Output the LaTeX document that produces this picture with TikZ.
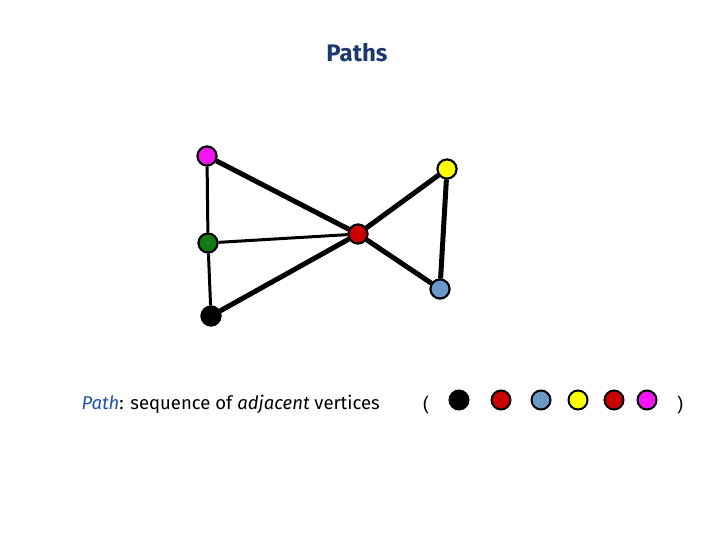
\documentclass[tikz,border=0pt]{standalone}
\usepackage{fontspec}
\setmainfont{Fira Sans}
\definecolor{titleblue}{HTML}{1C3A6E}
\definecolor{pathblue}{HTML}{1F4FA8}
\definecolor{vmag}{HTML}{F515F0}
\definecolor{vgreen}{HTML}{137A13}
\definecolor{vred}{HTML}{CC0000}
\definecolor{vyellow}{HTML}{FFFF00}
\definecolor{vblue}{HTML}{6A98C8}
\tikzset{
  vtx/.style={circle, draw=black, line width=2pt, minimum size=19pt, inner sep=0pt},
  thick edge/.style={line width=5pt},
  thin edge/.style={line width=3pt},
  captext/.style={font=\fontsize{18.5}{22}\selectfont},
}
\begin{document}
\begin{tikzpicture}[x=1pt,y=-1pt]
\useasboundingbox (0,0) rectangle (720,540);
\node[text=titleblue, font=\fontsize{24}{28}\selectfont\bfseries] (title) at (357,53) {Paths};
% graph vertices
\node[vtx, fill=vmag] (m) at (207,156) {};
\node[vtx, fill=vgreen] (g) at (208,243) {};
\node[vtx, fill=black] (k) at (211,316) {};
\node[vtx, fill=vred] (r) at (358,234) {};
\node[vtx, fill=vyellow] (y) at (447,169) {};
\node[vtx, fill=vblue] (b) at (440,289) {};
\draw[thin edge] (m) -- (g);
\draw[thin edge] (g) -- (k);
\draw[thin edge] (g) -- (r);
\draw[thick edge] (m) -- (r);
\draw[thick edge] (k) -- (r);
\draw[thick edge] (r) -- (y);
\draw[thick edge] (r) -- (b);
\draw[thick edge] (y) -- (b);
% redraw vertices on top
\node[vtx, fill=vmag] at (m) {};
\node[vtx, fill=vgreen] at (g) {};
\node[vtx, fill=black] at (k) {};
\node[vtx, fill=vred] at (r) {};
\node[vtx, fill=vyellow] at (y) {};
\node[vtx, fill=vblue] at (b) {};
% caption
\node[anchor=west, captext] (cap) at (78,404)
  {\textcolor{pathblue}{\textit{Path}}: sequence of \textit{adjacent} vertices};
% sequence
\node[captext] (lp) at (426,405) {(};
\node[vtx, fill=black] (s1) at (459,400) {};
\node[vtx, fill=vred] (s2) at (501,400) {};
\node[vtx, fill=vblue] (s3) at (541,400) {};
\node[vtx, fill=vyellow] (s4) at (578,400) {};
\node[vtx, fill=vred] (s5) at (614,400) {};
\node[vtx, fill=vmag] (s6) at (647,400) {};
\node[captext] (rp) at (680,405) {)};
\end{tikzpicture}
\end{document}
